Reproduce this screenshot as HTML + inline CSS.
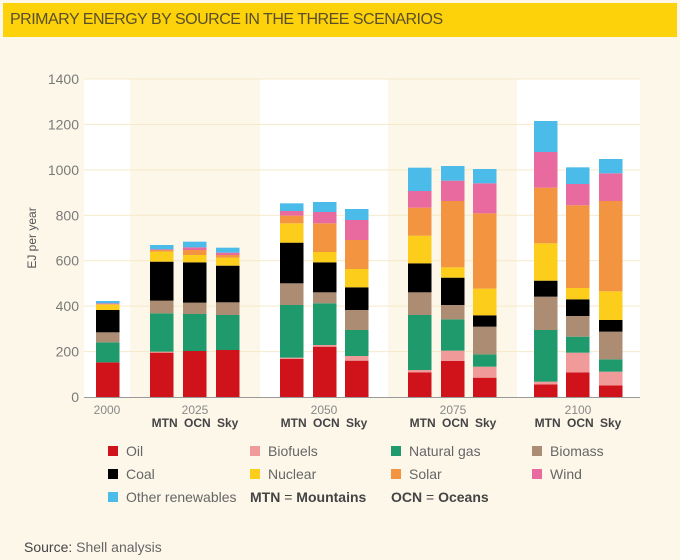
<!DOCTYPE html>
<html><head><meta charset="utf-8"><style>
html,body{margin:0;padding:0;background:#fdf7ea;}
body{width:680px;height:560px;overflow:hidden;position:relative;font-family:"Liberation Sans",sans-serif;}
#hdr{position:absolute;left:3px;top:3px;width:674px;height:34px;background:#fdd20a;color:#5a4f2a;font-size:16px;line-height:34px;padding-left:7px;box-sizing:border-box;letter-spacing:-0.5px;}
svg{position:absolute;left:0;top:0;}
</style></head><body>
<div id="hdr">PRIMARY ENERGY BY SOURCE IN THE THREE SCENARIOS</div>
<svg id="s" width="680" height="560" xmlns="http://www.w3.org/2000/svg"></svg>
<script>
const s=document.getElementById('s');
let h='';
[[84,130],[260,388],[517,640]].forEach(b=>{h+=`<rect x="${b[0]}" y="79" width="${b[1]-b[0]}" height="318" fill="#ffffff"/>`;});
for(let i=0;i<=7;i++){const y=397-i*45.43;if(i>0)h+=`<line x1="84" x2="640" y1="${y}" y2="${y}" stroke="#f6e9c8" stroke-width="1"/>`;
h+=`<text x="79" y="${y+5}" font-size="14" fill="#7a7a7a" text-anchor="end">${i*200}</text>`;}
h+=`<text transform="translate(36,238) rotate(-90)" font-size="12" fill="#555" text-anchor="middle">EJ per year</text>`;
const cols=['#d0121b','#f09a9a','#1f9a6c','#ad8c74','#000000','#fdcd1c','#f29440','#e96a9e','#4bbbea'];
const bars=[
[96,[907,907,847,817,750,733,733,730,723]],
[150,[878,875,760,722,605,575,570,568,555]],
[183,[873,873,762,728,607,585,570,562,545]],
[216,[870,870,765,727,617,593,585,578,563]],
[280,[897,893,735,670,548,490,467,453,430]],
[313,[860,855,730,697,607,576,490,456,426]],
[345,[902,888,810,750,682,627,540,480,447]],
[408,[937,930,765,697,610,527,443,393,323]],
[441,[903,872,778,735,653,622,423,362,318]],
[473,[953,920,883,800,766,686,460,370,327]],
[534,[973,965,810,710,662,550,383,276,183]],
[566,[937,878,830,768,718,684,436,372,322]],
[599,[976,935,898,815,780,694,423,340,297]]];
bars.forEach(b=>{let prev=397;b[1].forEach((z,i)=>{const t=60+z/3;if(prev-t>0)h+=`<rect x="${b[0]}" y="${t}" width="23.5" height="${prev-t}" fill="${cols[i]}"/>`;prev=t;});});
h+=`<line x1="84" x2="640" y1="397.5" y2="397.5" stroke="#999" stroke-width="1"/>`;
const lab=(x,yr)=>{h+=`<text x="${x}" y="414" font-size="12" fill="#888" text-anchor="middle">${yr}</text>`;};
lab(107,'2000');
[[195,'2025'],[324,'2050'],[453,'2075'],[578,'2100']].forEach(a=>{lab(a[0],a[1]);h+=`<text x="${a[0]}" y="427" font-size="12" font-weight="bold" fill="#444" text-anchor="middle" word-spacing="3">MTN OCN Sky</text>`;});
const leg=[['Oil',0,108,456],['Biofuels',1,250,456],['Natural gas',2,391,456],['Biomass',3,532,456],
['Coal',4,108,479],['Nuclear',5,250,479],['Solar',6,391,479],['Wind',7,532,479],['Other renewables',8,108,502]];
leg.forEach(l=>{h+=`<rect x="${l[2]}" y="${l[3]-10}" width="10" height="10" fill="${cols[l[1]]}"/><text x="${l[2]+18}" y="${l[3]}" font-size="14" fill="#666">${l[0]}</text>`;});
h+=`<text x="250" y="502" font-size="14" fill="#444"><tspan font-weight="bold">MTN</tspan> = <tspan font-weight="bold">Mountains</tspan></text>`;
h+=`<text x="391" y="502" font-size="14" fill="#444"><tspan font-weight="bold">OCN</tspan> = <tspan font-weight="bold">Oceans</tspan></text>`;
h+=`<text x="24" y="552" font-size="14" fill="#444">Source: <tspan fill="#666">Shell analysis</tspan></text>`;
s.innerHTML=h;
</script>
</body></html>
